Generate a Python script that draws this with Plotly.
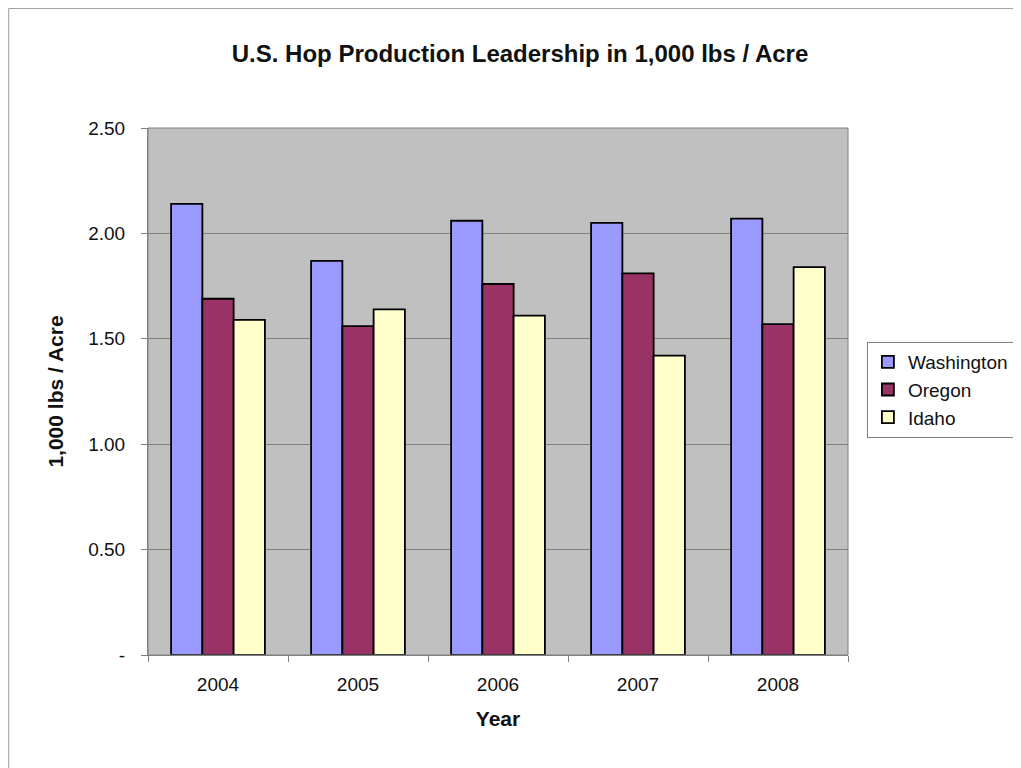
import plotly.graph_objects as go

years = ["2004", "2005", "2006", "2007", "2008"]
washington = [2.14, 1.87, 2.06, 2.05, 2.07]
oregon = [1.69, 1.56, 1.76, 1.81, 1.57]
idaho = [1.59, 1.64, 1.61, 1.42, 1.84]
tick_vals = [0, 0.5, 1.0, 1.5, 2.0, 2.5]
tick_text = ["-", "0.50", "1.00", "1.50", "2.00", "2.50"]

series = [("Washington", washington, "#9999FF"),
          ("Oregon", oregon, "#993366"),
          ("Idaho", idaho, "#FFFFCC")]

fig = go.Figure()
for name, vals, col in series:
    fig.add_trace(go.Bar(x=years, y=vals, name=name, marker_color=col,
                         marker_line_color="#000000", marker_line_width=1.8))

font = "Liberation Sans, Arial, sans-serif"
fig.update_layout(
    width=1021, height=768,
    margin=dict(l=140, r=181, t=120, b=121),
    paper_bgcolor="white", plot_bgcolor="#C0C0C0",
    barmode="group", bargap=0.33, bargroupgap=0,
    font=dict(family=font, size=19, color="#111111"),
    title=dict(text="<b>U.S. Hop Production Leadership in 1,000 lbs / Acre</b>",
               x=0.5015, xanchor="center", y=0.94, yanchor="middle",
               font=dict(size=24)),
    legend=dict(x=1.027, y=0.594, xanchor="left", yanchor="top",
                bordercolor="#808080", borderwidth=1, bgcolor="white",
                font=dict(size=19), tracegroupgap=2, itemwidth=30),
    showlegend=True,
)
fig.update_xaxes(
    title=dict(text="<b>Year</b>", font=dict(size=21), standoff=17),
    showline=True, linecolor="#808080", linewidth=1,
    ticks="outside", tickson="boundaries", ticklen=6, tickcolor="#808080",
    ticklabelstandoff=12,
    showgrid=False, mirror=False,
)
fig.update_yaxes(
    title=dict(text="<b>1,000 lbs / Acre</b>", font=dict(size=21), standoff=18),
    range=[0, 2.5], tickvals=tick_vals, ticktext=tick_text,
    showline=True, linecolor="#808080", linewidth=1,
    ticks="outside", ticklen=6, tickcolor="#808080",
    ticklabelstandoff=12,
    showgrid=True, gridcolor="#808080", gridwidth=1, zeroline=False,
)
# plot area right/top border
fig.add_shape(type="rect", xref="paper", yref="paper", x0=0, x1=1, y0=0, y1=1,
              line=dict(color="#808080", width=1), layer="above")
# outer chart frame
fig.add_shape(type="rect", xref="paper", yref="paper", x0=-0.199, x1=1.3, y0=-0.4, y1=1.2268,
              line=dict(color="#A0A0A0", width=1), layer="below")

fig.write_html("out.html")
